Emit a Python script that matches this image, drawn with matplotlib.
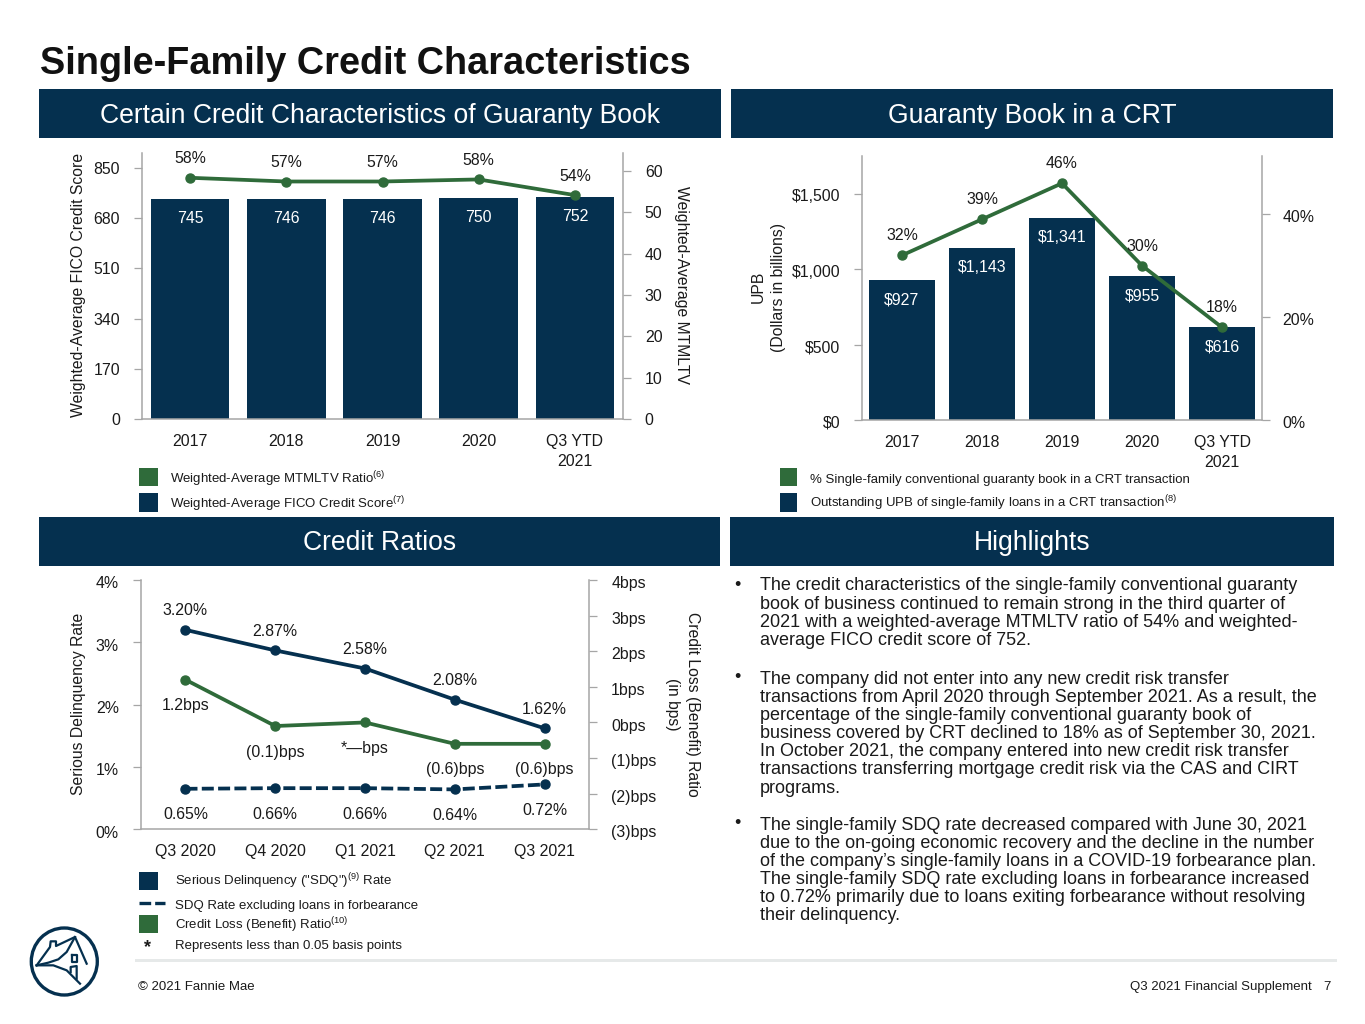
import matplotlib
matplotlib.use("Agg")
import matplotlib.pyplot as plt
from matplotlib.patches import Rectangle, Ellipse
from matplotlib.lines import Line2D
from matplotlib.transforms import ScaledTranslation

W, H = 1365, 1024
NAVY = "#05304F"
GREEN = "#2F6B3A"
GRAY = "#A6A6A6"
TXT = "#1A1A1A"

plt.rcParams["font.family"] = ["Liberation Sans", "DejaVu Sans"]
plt.rcParams["mathtext.default"] = "regular"
plt.rcParams["text.color"] = TXT

years = ["2017", "2018", "2019", "2020", "Q3 YTD\n2021"]
fico = [745, 746, 746, 750, 752]
mtmltv = [58.4, 57.5, 57.5, 58.0, 54.2]
mtmltv_labels = ["58%", "57%", "57%", "58%", "54%"]
fico_ticks = [0, 170, 340, 510, 680, 850]
mtmltv_ticks = [0, 10, 20, 30, 40, 50, 60]

upb = [927, 1143, 1341, 955, 616]
crt_share = [32, 39, 46, 30, 18]
upb_ticks = [0, 500, 1000, 1500]
crt_ticks = [0, 20, 40]

quarters = ["Q3 2020", "Q4 2020", "Q1 2021", "Q2 2021", "Q3 2021"]
sdq = [3.20, 2.87, 2.58, 2.08, 1.62]
sdq_ex = [0.65, 0.66, 0.66, 0.64, 0.72]
credit_loss = [1.2, -0.1, 0.0, -0.6, -0.6]
credit_labels = ["1.2bps", "(0.1)bps", "*—bps", "(0.6)bps", "(0.6)bps"]
sdq_pct_ticks = [0, 1, 2, 3, 4]
bps_ticks = [-3, -2, -1, 0, 1, 2, 3, 4]
bps_ticklabels = ["(3)bps", "(2)bps", "(1)bps", "0bps", "1bps", "2bps", "3bps", "4bps"]

highlights = [
    ["The credit characteristics of the single-family conventional guaranty",
     "book of business continued to remain strong in the third quarter of",
     "2021 with a weighted-average MTMLTV ratio of 54% and weighted-",
     "average FICO credit score of 752."],
    ["The company did not enter into any new credit risk transfer",
     "transactions from April 2020 through September 2021. As a result, the",
     "percentage of the single-family conventional guaranty book of",
     "business covered by CRT declined to 18% as of September 30, 2021.",
     "In October 2021, the company entered into new credit risk transfer",
     "transactions transferring mortgage credit risk via the CAS and CIRT",
     "programs."],
    ["The single-family SDQ rate decreased compared with June 30, 2021",
     "due to the on-going economic recovery and the decline in the number",
     "of the company’s single-family loans in a COVID-19 forbearance plan.",
     "The single-family SDQ rate excluding loans in forbearance increased",
     "to 0.72% primarily due to loans exiting forbearance without resolving",
     "their delinquency."],
]

fig = plt.figure(figsize=(W / 100, H / 100), dpi=100, facecolor="white")
FS = 11.4
LW = 2.7
MS = 6.5


def fx(x):
    return x / W


def fy(y):
    return 1 - y / H


def box(x0, y0, x1, y1, color=NAVY):
    fig.add_artist(Rectangle((fx(x0), fy(y1)), (x1 - x0) / W, (y1 - y0) / H,
                             transform=fig.transFigure, facecolor=color, edgecolor="none"))


def label(x, y, s, size=FS, ha="left", color=TXT, **kw):
    fig.text(fx(x), fy(y + 2), s, fontsize=size, ha=ha, va="center", color=color, **kw)


def make_axes(x0, y0, x1, y1):
    ax = fig.add_axes([fx(x0), fy(y1), (x1 - x0) / W, (y1 - y0) / H])
    ax.patch.set_alpha(0)
    tw = ax.twinx()
    tw.patch.set_alpha(0)
    for a in (ax, tw):
        for side, sp in a.spines.items():
            sp.set_visible(side in ("left", "right", "bottom"))
            sp.set_color(GRAY)
            sp.set_linewidth(1.1)
        a.tick_params(axis="y", length=5.7, width=0.9, color=GRAY, pad=10, labelsize=FS, labelcolor=TXT)
    ax.spines["right"].set_visible(False)
    tw.spines["left"].set_visible(False)
    tw.spines["bottom"].set_visible(False)
    ax.tick_params(axis="x", length=0, pad=10.8, labelsize=FS, labelcolor=TXT)
    return ax, tw


def shift_labels(a, dy_px):
    off = ScaledTranslation(0, -dy_px / 100, fig.dpi_scale_trans)
    for lab in a.get_yticklabels():
        lab.set_transform(lab.get_transform() + off)


def note(a, x, y, s, dy, color=TXT):
    a.annotate(s, (x, y), xytext=(0, dy), textcoords="offset pixels", ha="center",
               va="center", fontsize=FS, color=color, zorder=10)


def ylab(a, s, x, y, rotation=90):
    a.set_ylabel(s, fontsize=11.3, rotation=rotation, ha="center", va="center",
                 color=TXT, linespacing=1.42)
    a.yaxis.set_label_coords(fx(x), fy(y), transform=fig.transFigure)


# Title and section headers
label(40, 62.5, "Single-Family Credit Characteristics", size=27.3, weight="bold", color="#111111")
box(39, 89, 721, 138)
box(731, 89, 1333, 138)
box(39, 517, 720, 566)
box(730, 517, 1334, 566)
label(380, 114, "Certain Credit Characteristics of Guaranty Book", size=19.1, ha="center", color="white")
label(1032, 114, "Guaranty Book in a CRT", size=19.1, ha="center", color="white")
label(380, 541, "Credit Ratios", size=19.1, ha="center", color="white")
label(1032, 541, "Highlights", size=19.1, ha="center", color="white")

# Chart 1
ax, tw = make_axes(142, 153, 623, 419)
xs = list(range(len(years)))
ax.bar(xs, fico, width=0.815, color=NAVY)
ax.set_xlim(-0.5, 4.5)
ax.set_ylim(0, 901)
ax.set_yticks(fico_ticks)
ax.set_xticks(xs, years, linespacing=1.42)
tw.set_ylim(0, 64.4)
tw.set_yticks(mtmltv_ticks)
tw.plot(xs, mtmltv, color=GREEN, lw=LW, marker="o", ms=MS)
for x, v, m, s in zip(xs, fico, mtmltv, mtmltv_labels):
    note(ax, x, v, str(v), -19.5, color="white")
    note(tw, x, m, s, 19)
ylab(ax, "Weighted-Average FICO Credit Score", 78.5, 285)
ylab(tw, "Weighted-Average MTMLTV", 681, 285, rotation=270)

# Chart 2
ax, tw = make_axes(862, 156, 1262, 420)
ax.bar(xs, upb, width=0.815, color=NAVY)
ax.set_xlim(-0.5, 4.5)
ax.set_ylim(0, 1752)
ax.set_yticks(upb_ticks, [f"${v:,}" for v in upb_ticks])
ax.set_xticks(xs, years, linespacing=1.42)
tw.set_ylim(0, 51.3)
tw.set_yticks(crt_ticks, [f"{v}%" for v in crt_ticks])
tw.tick_params(axis="y", pad=8.8)
tw.plot(xs, crt_share, color=GREEN, lw=LW, marker="o", ms=MS)
for x, v, m in zip(xs, upb, crt_share):
    note(ax, x, v, f"${v:,}", -19.5, color="white")
    note(tw, x, m, f"{m}%", 19.5)
ylab(ax, "UPB\n(Dollars in billions)", 768, 287)
shift_labels(ax, 1.5)
shift_labels(tw, 1.5)

# Chart 3
ax, tw = make_axes(140.6, 580, 589.4, 829.3)
ax.set_xlim(-0.5, 4.5)
ax.set_ylim(0, 4)
ax.set_yticks(sdq_pct_ticks, [f"{v}%" for v in sdq_pct_ticks])
ax.set_xticks(xs, quarters)
tw.set_ylim(-3, 4)
tw.set_yticks(bps_ticks, bps_ticklabels)
ax.plot(xs, sdq, color=NAVY, lw=LW, marker="o", ms=MS)
ax.plot(xs, sdq_ex, color=NAVY, lw=LW, marker="o", ms=MS, dashes=(3.2, 1.15))
tw.plot(xs, credit_loss, color=GREEN, lw=LW, marker="o", ms=MS)
for x, a, b, c, s in zip(xs, sdq, sdq_ex, credit_loss, credit_labels):
    note(ax, x, a, f"{a:.2f}%", 19)
    note(ax, x, b, f"{b:.2f}%", -26)
    note(tw, x, c, s, -26)
ylab(ax, "Serious Delinquency Rate", 78.5, 704)
ylab(tw, "Credit Loss (Benefit) Ratio\n(in bps)", 682.5, 704, rotation=270)
shift_labels(ax, 2.2)
shift_labels(tw, 2.2)

# Legends
LS = 9.53
box(139, 468, 157.5, 486, GREEN)
box(139, 493, 157.5, 512, NAVY)
label(169.5, 477.5, "Weighted-Average MTMLTV Ratio$^{(6)}$", size=LS)
label(169.5, 502.5, "Weighted-Average FICO Credit Score$^{(7)}$", size=LS)
box(779.5, 468, 797.5, 486, GREEN)
box(779.5, 493, 797.5, 512, NAVY)
label(810, 477.5, "% Single-family conventional guaranty book in a CRT transaction", size=LS)
label(810, 501, "Outstanding UPB of single-family loans in a CRT transaction$^{(8)}$", size=LS)
box(139, 872, 157.5, 890, NAVY)
fig.add_artist(Line2D([fx(139), fx(165)], [fy(902.7), fy(902.7)], color=NAVY, lw=2.4,
                      dashes=(3.5, 1.2), transform=fig.transFigure))
box(139, 915, 157.5, 933, GREEN)
label(147.5, 946, "*", size=13, ha="center", weight="bold")
label(175, 879.5, 'Serious Delinquency ("SDQ")$^{(9)}$ Rate', size=LS)
label(175, 903.5, "SDQ Rate excluding loans in forbearance", size=LS)
label(175, 923.5, "Credit Loss (Benefit) Ratio$^{(10)}$", size=LS)
label(175, 943.5, "Represents less than 0.05 basis points", size=LS)

# Highlights
para_tops = [584, 677, 823]
for top, lines in zip(para_tops, highlights):
    label(737, top - 1, "•", size=12.9, ha="center")
    for i, line in enumerate(lines):
        label(760, top + i * 18.17, line, size=12.95)

# Footer
box(135, 959, 1337, 962, "#E6E9E9")
label(138, 985, "© 2021 Fannie Mae", size=9.5)
label(1312, 985, "Q3 2021 Financial Supplement", size=9.5, ha="right")
label(1331, 985, "7", size=9.5, ha="right")

# Logo: outline drawn in crop coordinates of a 240-unit square anchored at (25, 922)
fig.add_artist(Ellipse((fx(64.3), fy(961.5)), 66 / W, 67 / H, transform=fig.transFigure,
                       facecolor="none", edgecolor=NAVY, lw=2.4))
house = [
    [(35, 130), (75, 75), (77, 58), (93, 58), (93, 72), (150, 45), (185, 125)],
    [(35, 130), (70, 122), (100, 112), (125, 90), (150, 45)],
    [(35, 130), (85, 130), (125, 145), (165, 185)],
    [(140, 98), (155, 98), (155, 120), (140, 120), (140, 98)],
    [(137, 150), (137, 135), (155, 132), (155, 170)],
]
for path in house:
    fig.add_artist(Line2D([fx(25 + p[0] / 3) for p in path], [fy(922 + p[1] / 3) for p in path],
                          color=NAVY, lw=1.6, transform=fig.transFigure))

fig.savefig("out.png", dpi=100, facecolor="white")
